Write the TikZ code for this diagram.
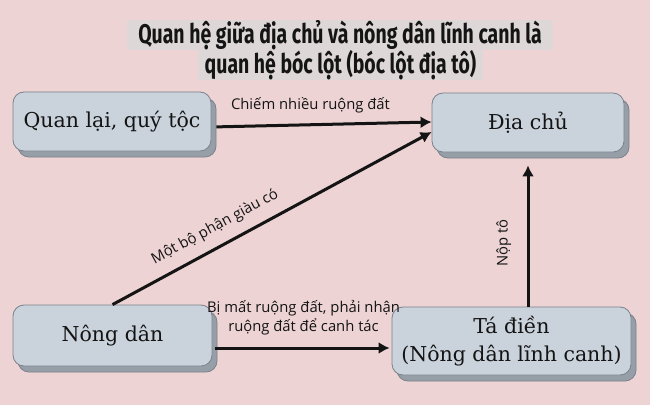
\documentclass[tikz,border=0pt]{standalone}
\usepackage{fontspec}
\setmainfont{DejaVu Serif}
\newfontfamily\labelfont{Open Sans}
\newfontfamily\titlefont[FakeStretch=0.72]{Fira Sans}
\usetikzlibrary{%
	arrows.meta,%
	shadows,%
	calc
}
\definecolor{bgpink}{RGB}{237,211,211}
\definecolor{titlegray}{RGB}{221,215,215}
\definecolor{boxfill}{RGB}{202,210,219}
\definecolor{boxedge}{RGB}{122,130,140}
\definecolor{boxshade}{RGB}{150,158,168}
\definecolor{inkdark}{RGB}{20,20,20}

\begin{document}
\begin{tikzpicture}[x=1pt,y=1pt,
	box/.style={draw=boxedge, fill=boxfill, line width=0.8pt, rounded corners=11pt,
		drop shadow={shadow xshift=5pt, shadow yshift=-6pt, fill=boxshade, draw=boxedge, opacity=1},
		font=\fontsize{20.5}{28}\selectfont, align=center, inner sep=0pt, text=inkdark},
	link/.style={draw=inkdark, line width=3pt, -{Latex[length=11pt,width=12pt]}},
	linktext/.style={font=\labelfont\fontsize{14.8}{19}\selectfont, text=inkdark, align=center},
	headline/.style={fill=titlegray, font=\titlefont\bfseries\fontsize{27}{30}\selectfont, inner sep=0pt, text=inkdark}]
		\fill[bgpink] (0,0) rectangle (650,405);
		
		% title
		\node[headline, minimum width=426, minimum height=30] (head1) at (340,370) {Quan hệ giữa địa chủ và nông dân lĩnh canh là};
		\node[headline, minimum width=285, minimum height=30] (head2) at (340.5,340) {quan hệ bóc lột (bóc lột địa tô)};
		
		% boxes
		\node[box, minimum width=198, minimum height=59] (quan) at (112,283.5) {Quan lại, quý tộc};
		\node[box, minimum width=192, minimum height=59] (diachu) at (528,282.5) {Địa chủ};
		\node[box, minimum width=199, minimum height=61] (nongdan) at (112.5,69.5) {Nông dân};
		\node[box, minimum width=239, minimum height=68] (tadien) at (511.5,64) {Tá điền\\(Nông dân lĩnh canh)};
		
		% arrows
		\draw[link, shorten <=5pt] ([yshift=-5.5pt]quan.east) -- ([yshift=0.5pt]diachu.west)
			node[linktext, pos=0.45, above=7pt] {Chiếm nhiều ruộng đất};
		\draw[link] (nongdan.north) -- ([yshift=-9.5pt]diachu.west)
			node[linktext, pos=0.35, sloped, above=7pt] {Một bộ phận giàu có};
		\draw[link, shorten >=13pt] (diachu.south |- tadien.north) -- (diachu.south)
			node[linktext, pos=0.41, sloped, above=12pt] {Nộp tô};
		\coordinate (ndout) at ([shift={(3pt,-12.5pt)}]nongdan.east);
		\draw[link, shorten >=2pt] (ndout) -- (ndout -| tadien.west)
			node[linktext, midway, above=8pt] {Bị mất ruộng đất, phải nhận\\ruộng đất để canh tác};
	\end{tikzpicture}
\end{document}
